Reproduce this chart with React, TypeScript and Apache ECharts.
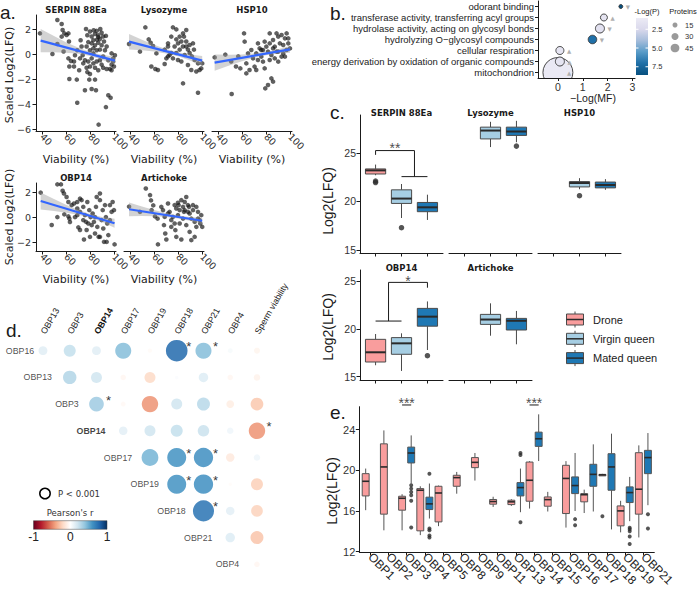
import React, { useEffect, useRef } from "react";
import * as echarts from "echarts";

const SANS = "'Liberation Sans', Arial, Helvetica, sans-serif";
const VERD = "'DejaVu Sans', Verdana, sans-serif";
const INK = "#1a1a1a";

// ================= Panel a: scatter + linear fit =================
const viabilityTicks = [40, 60, 80, 100];
const topYTicks = [-6, -4, -2, 0, 2];
const bottomYTicks = [-2, 0, 2];

const serpinPts = [
  [38.3,1.65],[52.8,2.72],[56.4,2.4],[57.2,1.92],[58.6,1.65],[56.4,1.39],[60.5,1.52],[62,1.65],[48.7,0],[52.8,0.8],[58,0.2],[62.5,1.0],[62,-0.35],[64.2,-0.56],[62.8,-1.0],[66.7,-1.0],[62.8,-2],[69,-2.05],[69.4,-3.9],[71,-1.3],[71.7,-0.35],[69.4,0.3],[73,0.6],[72.2,1.1],[76.7,2.0],[75.8,-2.9],[79.4,-2.05],[81.4,-2.8],[84.2,-2.05],[85,-2.9],[87.2,-5.65],[93.3,-4.25],[95.3,-3.3],[97.2,-3.5],
  [77.8,1.5],[80,1.8],[81.4,1.4],[82.8,1.1],[84.2,1.6],[85.6,1.85],[86.9,1.5],[88.3,1.2],[89.7,1.7],[91,1.4],[81.4,0.85],[84.2,0.7],[86.9,0.9],[89.7,0.7],[91.7,1.0],[78.6,0.95],[77.2,0.6],[80,0.3],[82.8,0.45],[85.6,0.3],[88.3,0.35],[92.5,0.3],[93.9,0.6],[93.3,1.45],[88.6,2.0],[83.1,1.9],[85.8,1.15],[86.9,1.35],
  [75.8,-0.5],[78.6,-0.6],[81.4,-0.35],[82.8,-0.75],[85.6,-0.6],[88.3,-0.5],[89.7,-0.85],[91,-1.1],[93.9,-1.2],[96.7,-1.2],[98,-0.85],[99.4,-0.6],[100,-1.0],[99.4,-0.35],[100.8,-0.1],[98,0.05],[95.3,-0.5],[91,-0.2],[84.2,-1.1],[86.9,-1.3],[80,-1.0],[77.2,-1.1],[74.4,-0.75],[73.9,-0.1],[67.5,-0.1],[66.7,-0.6],[98,-1.3],[80,-1.6],[77.8,-1.45],[82.8,0.05]
];
const serpinFit = [[38.9, 1.07], [100.8, -0.53]];
const serpinBand = [[38.9,0.14,2.0],[50,0.133,1.433],[60,0.105,0.945],[70,0.016,0.516],[80,-0.152,0.168],[90,-0.451,-0.051],[100.8,-0.85,-0.21]];

const lysozymePts = [
  [39.2,0.8],[48.3,0.19],[52.8,2.13],[55.6,1.17],[57.2,0.9],[59.2,0.64],[62,0.05],[57.8,-1.0],[61.1,-1.2],[63.3,-1.28],[68.9,-0.8],[70.3,-0.35],[71.7,0.85],[71.7,0.6],[73,-0.08],[75.8,2.13],[78.6,1.97],[74.4,1.39],[78.6,1.17],[80,0.85],[82.8,1.0],[85,1.39],[86.9,1.0],[84.2,0.6],[81.4,0.35],[78.6,0.08],[75.8,-0.35],[80,-0.48],[82.8,-0.6],[85.6,-0.08],[88.3,0.35],[84.2,1.65],[86.9,1.92],[89.7,0.08],[91.6,-0.19],[93.3,0.35],[93.9,-0.48],[96.7,-0.75],[98,-1.28],[99.4,-1.15],[95.3,-1.4],[91.1,-1.28],[96.7,-3.1],[84.2,-2.35],[88.3,-0.88],[77.2,0.6],[74.4,0.08],[71.7,-0.19],[81.4,1.39],[86.9,0.6],[89.7,0.72],[92.5,0.85],[100.2,-0.75],[68.9,0.35]
];
const lysozymeFit = [[39.2, 0.99], [100.2, -0.53]];
const lysozymeBand = [[39.2,0.37,1.61],[50,0.30,1.14],[60,0.20,0.74],[70,0.043,0.403],[80,-0.186,0.134],[90,-0.515,-0.035],[100.2,-0.91,-0.15]];

const hsp10Pts = [
  [37.2,-0.27],[46.1,-0.05],[51,-0.6],[51.4,-3.2],[55,-1.0],[56.9,-0.19],[58.6,-1.15],[61.7,1.65],[62.2,0.99],[63.6,-0.75],[63.6,-1.55],[67.8,0.32],[69.2,-0.35],[70.5,-1.01],[71.9,0.05],[73.3,0.85],[74.7,0.45],[76.1,-0.21],[77.5,-0.61],[78.9,-1.15],[80.3,0.59],[81.7,0.19],[83.1,1.65],[83.1,0.85],[84.5,-0.08],[85.9,1.12],[87.3,0.59],[88.8,0.19],[90.2,1.39],[91.6,0.85],[93,1.52],[94.4,0.72],[95.8,1.25],[97.2,1.65],[98.6,0.85],[100,0.45],[87.3,-0.35],[90.2,-0.61],[93,-0.21],[84.5,-1.95],[85.9,-2.21],[81.7,-2.48],[79.4,-2.75],[76.1,0.32],[71.9,-1.28],[66.3,-1.28],[78.9,0.99],[90.2,0.19],[94.4,0.05],[97.2,0.32],[98.6,1.25],[88.8,1.65],[85.9,0.45],[77.5,0.32],[73.3,-0.48],[83.1,-0.48],[95.8,-0.21],[65,0.05]
];
const hsp10Fit = [[37.2, -0.69], [100, 0.37]];
const hsp10Band = [[37.2,-1.34,-0.04],[50,-0.894,-0.054],[60,-0.575,-0.035],[70,-0.306,0.034],[80,-0.097,0.163],[90,0.032,0.372],[100,0.10,0.64]];

const obp14Pts = [
  [38.9,1.95],[48.1,-0.64],[52.8,2.61],[55.8,2.61],[57.2,2.1],[58.3,1.88],[60.5,1.6],[62,1.2],[58.6,0.21],[62,0.05],[63.3,-0.4],[62.8,-0.13],[52.8,-0.01],[66.7,1.08],[69.4,1.2],[71.7,1.47],[69.4,0.68],[71.7,0.41],[70.3,-0.83],[71.7,-1.04],[74.4,0.81],[75.8,0.15],[76.7,-0.39],[75,-1.8],[77.8,1.2],[79.4,0.55],[80.5,-0.01],[82.2,0.28],[83.3,-0.39],[85,0.81],[86.1,-0.79],[87.2,-1.59],[88.3,1.35],[88.3,1.88],[89.7,-0.25],[91.1,-0.92],[91.7,-1.99],[93.9,-1.99],[95.3,-1.45],[93.3,-0.01],[96.6,-0.25],[98,0.41],[98.9,1.2],[100,0.55],[100.5,-2.19],[96.6,0.95],[92.5,0.95],[84.2,-0.01],[81.4,-0.65],[78.6,-0.52],[77.2,-1.04],[74.4,-0.25],[73,1.35],[67.5,-0.01],[64.7,0.95],[85.6,1.6],[90.6,0.55],[94.4,-0.52],[88.3,-1.59],[84.2,-1.32],[80,-1.59],[69.4,0.15]
];
const obp14Fit = [[38.9, 1.28], [100.5, -0.5]];
const obp14Band = [[38.9,0.60,1.96],[50,0.479,1.439],[60,0.35,0.99],[70,0.181,0.581],[80,-0.058,0.242],[90,-0.397,0.003],[100.5,-0.86,-0.14]];

const artichokePts = [
  [39.2,0.83],[48.3,0.41],[53.2,2.28],[56.7,1.75],[57.5,1.33],[59.4,0.93],[58,0.55],[60.8,0.05],[63,-0.13],[63.3,-2.19],[66.1,0.81],[68.3,-0.65],[69.4,-1.32],[70.3,-1.8],[71.7,1.08],[73,0.41],[74.4,-0.25],[75.8,0.01],[77.2,0.95],[77.8,-1.05],[78.6,-1.59],[80,1.14],[81.4,0.55],[82.8,1.35],[84.2,0.81],[85.6,0.55],[86.9,1.6],[88.3,0.95],[89.7,0.28],[91.1,-0.13],[92.5,0.55],[93.9,-0.39],[95.3,-0.79],[96.7,0.41],[98,-0.25],[99.4,0.15],[100.2,-0.79],[84.2,-0.13],[86.9,-0.65],[89.7,-1.19],[91.1,-1.85],[93.9,-1.59],[82.8,-1.8],[81.4,-0.52],[77.2,-0.52],[74.4,-0.79],[78.6,0.68],[85.6,1.2],[88.3,0.41],[95.3,0.81],[96.7,-0.13],[98.6,-0.52],[92.5,0.95],[71.7,0.28],[68.9,0.01],[67.5,0.55],[80,0.15],[85,0.41],[80.5,0.95],[89.2,0.81]
];
const artichokeFit = [[39.2, 0.62], [100.2, -0.3]];
const artichokeBand = [[39.2,0.07,1.17],[50,0.077,0.837],[60,0.056,0.556],[70,-0.005,0.315],[80,-0.115,0.125],[90,-0.296,0.004],[100.2,-0.55,-0.05]];

// ================= Panel b: GO enrichment =================
const bTerms = [
  "mitochondrion",
  "energy derivation by oxidation of organic compounds",
  "cellular respiration",
  "hydrolyzing O\u2212glycosyl compounds",
  "hydrolase activity, acting on glycosyl bonds",
  "transferase activity, transferring acyl groups",
  "odorant binding",
];
const bLogMF = [0.0, 0.08, 0.08, 1.39, 1.69, 1.85, 2.53];
const bLogP = [1.2, 1.5, 1.5, 7.0, 1.8, 1.6, 8.6];
const bProteins = [530, 48, 38, 43, 48, 29, 9];
const bDirection = ["\u25B2", "\u25B2", "\u25B2", "\u25BC", "\u25BC", "\u25B2", "\u25BC"];
const bPTicks = [2.5, 5.0, 7.5];
const bProteinTicks = [15, 30, 45];

// ================= Panel c: boxplots by caste =================
const cGroups = ["Drone", "Virgin queen", "Mated queen"];
// [group, min, q1, median, q3, max]
const cSerpinBoxes = [[0,22.7,22.83,23.2,23.35,23.8],[1,18.3,19.8,20.3,21.2,21.8],[2,18.1,18.95,19.4,19.9,20.7]];
const cSerpinOut = [[0,22.1],[0,21.95],[1,17.3]];
const cLysozymeBoxes = [[1,25.6,26.44,27.3,27.65,28.2],[2,26.1,26.8,27.2,27.65,28.3]];
const cLysozymeOut = [[2,25.7]];
const cHsp10Boxes = [[1,21.26,21.5,21.9,22.05,22.4],[2,21.2,21.4,21.7,22.0,22.3]];
const cHsp10Out = [[1,20.6]];
const cObp14Boxes = [[0,16.2,16.54,17.56,18.92,19.48],[1,15.6,17.35,18.5,19.1,19.55],[2,17.8,20.3,21.3,22.17,22.9]];
const cObp14Out = [[2,17.2]];
const cArtichokeBoxes = [[1,19.3,20.49,21.0,21.54,22.7],[2,18.4,19.9,20.87,21.12,21.9]];
const cArtichokeOut: number[][] = [];
const cTicks = [15, 20, 25];

// ================= Panel d: correlation matrix =================
const dCols = ["OBP13","OBP3","OBP14","OBP17","OBP19","OBP18","OBP21","OBP4","Sperm viability"];
const dRows = ["OBP16","OBP13","OBP3","OBP14","OBP17","OBP19","OBP18","OBP21","OBP4"];
// row i holds values for columns i..8
const dCorr = [
  [0.13, 0.24, 0.13, 0.43, -0.03, 0.78, 0.43, 0.04, -0.06],
  [0.3, 0.2, -0.05, -0.2, 0.02, 0.15, -0.05, -0.07],
  [0.36, -0.04, -0.45, 0.2, 0.28, -0.1, -0.27],
  [0.12, 0.2, 0.24, 0.22, 0.07, -0.45],
  [0.47, 0.6, 0.62, -0.12, 0.07],
  [0.6, 0.62, -0.02, -0.24],
  [0.74, 0.12, -0.23],
  [0.15, -0.28],
  [-0.05],
];
const dSignificant = [
  ["OBP16","OBP18"],["OBP16","OBP21"],["OBP3","OBP14"],["OBP14","Sperm viability"],
  ["OBP17","OBP18"],["OBP17","OBP21"],["OBP19","OBP18"],["OBP19","OBP21"],["OBP18","OBP21"],
];

// ================= Panel e: OBP boxplots =================
const eCats = ["OBP1","OBP2","OBP3","OBP4","OBP5","OBP8","OBP9","OBP11","OBP13","OBP14","OBP15","OBP16","OBP17","OBP18","OBP19","OBP21"];
// [min, q1, median, q3, max] or null
const eDrone = [
  [16.08,17.48,18.92,19.67,20.17],
  [14.1,15.69,20.33,22.6,23.92],
  [14.1,16.08,17.25,17.45,17.65],
  [13.63,14.05,18.04,18.2,18.43],
  [14.51,14.93,17.77,18.43,18.5],
  [17.7,18.43,19.28,19.51,19.84],
  [18.99,20.26,20.78,21.25,21.7],
  [16.4,16.67,16.93,17.13,17.4],
  [16.5,16.63,16.9,17.06,17.16],
  [16.24,16.96,19.02,20.81,20.9],
  [15.95,16.47,17.12,17.38,17.88],
  [14.37,15.75,19.2,20.49,20.9],
  [15.8,16.9,17.6,17.71,18.1],
  [19.45,19.5,19.55,19.6,19.65],
  [13.9,14.54,16.01,16.5,17.0],
  [13.4,15.69,18.14,21.73,22.45],
];
const eMated = [
  null, null,
  [18.7,20.72,21.7,22.28,23.43],
  [15.26,16.14,16.7,17.36,18.7],
  null, null, null, null,
  [15.88,17.48,18.3,18.79,20.17],
  [20.91,22.35,23.1,23.75,25.5],
  null,
  [16.0,17.71,18.5,19.35,21.7],
  [15.95,18.43,19.6,20.59,22.55],
  [14.19,18.04,20.33,21.63,23.6],
  [15.0,16.83,17.81,18.37,19.35],
  [16.57,19.67,21.25,21.96,23.66],
];
// [category index, value]
const eDroneOut = [[13,15.49]];
const eMatedOut = [[2,18.53],[2,18.2],[2,17.87],[2,17.55],[2,17.0],[2,14.37],[3,19.67],[3,14.28],[3,14.1],[3,13.6],[3,13.4],[8,21.7],[8,21.5],[8,14.9],[11,15.2],[11,14.6],[14,14.35],[14,14.2],[14,14.0],[14,13.5],[14,12.75],[15,15.69],[15,14.28]];
const eSignificant = [[2, "***"], [9, "***"]];
const eYTicks = [12, 16, 20, 24];

// ================= helpers =================
const FILL = ["#F99D9D", "#A6CEE3", "#1F78B4"];

function hexToRgb(h: string) {
  const n = parseInt(h.slice(1), 16);
  return [(n >> 16) & 255, (n >> 8) & 255, n & 255];
}
function ramp(stops: [number, string][], v: number) {
  if (v <= stops[0][0]) return stops[0][1];
  for (let i = 1; i < stops.length; i++) {
    if (v <= stops[i][0]) {
      const t = (v - stops[i - 1][0]) / (stops[i][0] - stops[i - 1][0]);
      const a = hexToRgb(stops[i - 1][1]);
      const b = hexToRgb(stops[i][1]);
      return `rgb(${Math.round(a[0] + (b[0] - a[0]) * t)},${Math.round(a[1] + (b[1] - a[1]) * t)},${Math.round(a[2] + (b[2] - a[2]) * t)})`;
    }
  }
  return stops[stops.length - 1][1];
}
const RDBU: [number, string][] = [
  [-1, "#67001F"], [-0.8, "#B2182B"], [-0.6, "#D6604D"], [-0.4, "#F4A582"], [-0.2, "#FDDBC7"],
  [0, "#FFFFFF"], [0.2, "#D1E5F0"], [0.4, "#92C5DE"], [0.6, "#4393C3"], [0.8, "#2166AC"], [1, "#053061"],
];
const PUBU: [number, string][] = [
  [1.0, "#ECEBF5"], [2.5, "#DAD9EC"], [4.0, "#A6BDDB"], [5.5, "#5A9CC8"], [7.0, "#2070A8"], [8.6, "#08507F"],
];
const minus = (v: number) => (v < 0 ? "\u2212" + Math.abs(v) : String(v));

const T = (x: number, y: number, text: string, o: any = {}) => ({
  type: "text",
  x,
  y,
  rotation: o.rot || 0,
  silent: true,
  z: 50,
  style: {
    text,
    fill: o.color || INK,
    fontSize: o.size || 10,
    fontFamily: o.family || SANS,
    fontWeight: o.weight || "normal",
    align: o.align || "center",
    verticalAlign: o.valign || "middle",
    textAlign: o.align || "center",
    textVerticalAlign: o.valign || "middle",
  },
});

const bandRenderer = (band: number[][]) => (params: any, api: any) => {
  const upper = band.map((b) => api.coord([b[0], b[2]]));
  const lower = band.slice().reverse().map((b) => api.coord([b[0], b[1]]));
  return { type: "polygon", shape: { points: upper.concat(lower) }, style: { fill: "rgba(150,150,150,0.42)" } };
};

const boxRenderer = (boxW: number, edge: string, medW: number) => (params: any, api: any) => {
  const x = api.value(0);
  const g = api.value(6);
  const pMin = api.coord([x, api.value(1)]);
  const pQ1 = api.coord([x, api.value(2)]);
  const pMed = api.coord([x, api.value(3)]);
  const pQ3 = api.coord([x, api.value(4)]);
  const pMax = api.coord([x, api.value(5)]);
  const w = api.size([boxW, 0])[0];
  const cx = pMin[0];
  const ls = { stroke: edge, lineWidth: 1 };
  return {
    type: "group",
    children: [
      { type: "line", shape: { x1: cx, y1: pMax[1], x2: cx, y2: pQ3[1] }, style: ls },
      { type: "line", shape: { x1: cx, y1: pQ1[1], x2: cx, y2: pMin[1] }, style: ls },
      { type: "rect", shape: { x: cx - w / 2, y: pQ3[1], width: w, height: Math.max(pQ1[1] - pQ3[1], 1.5) }, style: { fill: FILL[g], stroke: edge, lineWidth: 1 } },
      { type: "line", shape: { x1: cx - w / 2, y1: pMed[1], x2: cx + w / 2, y2: pMed[1] }, style: { stroke: "#2a2a2a", lineWidth: medW } },
    ],
  };
};

function buildOption() {
  const grids: any[] = [];
  const xAxes: any[] = [];
  const yAxes: any[] = [];
  const series: any[] = [];
  const gfx: any[] = [];
  const axisLine = (show: boolean) => ({ show, onZero: false, lineStyle: { color: INK, width: 1 } });

  // ---------- a ----------
  const aPanels = [
    { title: "SERPIN 88Ea", pts: serpinPts, fit: serpinFit, band: serpinBand, left: 36, top: 15, h: 116, yMin: -6.16, yMax: 3.12, ticks: topYTicks, showY: true },
    { title: "Lysozyme", pts: lysozymePts, fit: lysozymeFit, band: lysozymeBand, left: 124, top: 15, h: 116, yMin: -6.16, yMax: 3.12, ticks: topYTicks, showY: false },
    { title: "HSP10", pts: hsp10Pts, fit: hsp10Fit, band: hsp10Band, left: 212, top: 15, h: 116, yMin: -6.16, yMax: 3.12, ticks: topYTicks, showY: false },
    { title: "OBP14", pts: obp14Pts, fit: obp14Fit, band: obp14Band, left: 36, top: 183, h: 68, yMin: -2.72, yMax: 2.72, ticks: bottomYTicks, showY: true },
    { title: "Artichoke", pts: artichokePts, fit: artichokeFit, band: artichokeBand, left: 124, top: 183, h: 68, yMin: -2.72, yMax: 2.72, ticks: bottomYTicks, showY: false },
  ];
  aPanels.forEach((p) => {
    const gi = grids.length;
    grids.push({ left: p.left, top: p.top, width: 80, height: p.h, outerBoundsMode: "none", containLabel: false });
    xAxes.push({
      gridIndex: gi, type: "value", min: 35, max: 101.7, splitLine: { show: false },
      axisLine: axisLine(true),
      axisTick: { show: true, length: 3.5, customValues: viabilityTicks, lineStyle: { color: INK } },
      axisLabel: { customValues: viabilityTicks, rotate: -45, margin: 4, fontSize: 9.5, fontFamily: VERD, color: "#333" },
    });
    yAxes.push({
      gridIndex: gi, type: "value", min: p.yMin, max: p.yMax, splitLine: { show: false },
      axisLine: axisLine(p.showY),
      axisTick: { show: p.showY, length: 3.5, customValues: p.ticks, lineStyle: { color: INK } },
      axisLabel: { show: p.showY, customValues: p.ticks, margin: 5, fontSize: 9.5, fontFamily: VERD, color: "#333", formatter: (v: number) => minus(v) },
    });
    series.push({ type: "scatter", xAxisIndex: gi, yAxisIndex: gi, data: p.pts, symbolSize: 4.6, itemStyle: { color: "rgba(20,20,20,0.85)" }, silent: true, z: 2 });
    series.push({ type: "custom", xAxisIndex: gi, yAxisIndex: gi, data: [[p.band[0][0], p.band[0][1]]], renderItem: bandRenderer(p.band), silent: true, z: 3 });
    series.push({ type: "line", xAxisIndex: gi, yAxisIndex: gi, data: p.fit, symbol: "none", lineStyle: { color: "#3366FF", width: 2.2 }, silent: true, z: 4 });
    gfx.push(T(p.left + 40, p.top - 5, p.title, { family: VERD, weight: "bold", size: 8.5 }));
    gfx.push(T(p.left + 40, p.top + p.h + 28, "Viability (%)", { family: VERD, size: 11 }));
  });
  gfx.push(T(9, 75, "Scaled Log2(LFQ)", { family: VERD, size: 11, rot: Math.PI / 2 }));
  gfx.push(T(9, 217, "Scaled Log2(LFQ)", { family: VERD, size: 11, rot: Math.PI / 2 }));
  gfx.push(T(0, 12, "a.", { size: 19, align: "left" }));

  // ---------- b ----------
  {
    const gi = grids.length;
    grids.push({ left: 538, top: 1, width: 97, height: 77, outerBoundsMode: "none", containLabel: false });
    xAxes.push({
      gridIndex: gi, type: "value", min: -0.8, max: 3.1, splitLine: { show: false },
      axisLine: axisLine(true),
      axisTick: { show: true, length: 3, customValues: [0, 1, 2, 3], lineStyle: { color: INK } },
      axisLabel: { customValues: [0, 1, 2, 3], margin: 3, fontSize: 10.5, color: "#333" },
    });
    yAxes.push({
      gridIndex: gi, type: "category", data: bTerms, splitLine: { show: false },
      axisLine: axisLine(true),
      axisTick: { show: true, length: 3, alignWithLabel: true, lineStyle: { color: INK } },
      axisLabel: { interval: 0, margin: 4, fontSize: 9.5, color: "#222" },
    });
    series.push({
      type: "custom", xAxisIndex: gi, yAxisIndex: gi, clip: true, silent: true,
      data: bTerms.map((t, i) => [bLogMF[i], i, bProteins[i], bLogP[i]]),
      renderItem: (params: any, api: any) => {
        const i = params.dataIndex;
        const c = api.coord([api.value(0), api.value(1)]);
        const r = 0.65 * Math.sqrt(api.value(2));
        return {
          type: "group",
          children: [
            { type: "circle", shape: { cx: c[0], cy: c[1], r }, style: { fill: ramp(PUBU, api.value(3)), stroke: "#333", lineWidth: 0.9 } },
            { type: "text", x: c[0] + Math.min(r, 6) + 3, y: c[1], style: { text: bDirection[i], fill: "#b0b0b0", fontSize: 5.5, fontFamily: VERD, align: "left", verticalAlign: "middle", textAlign: "left", textVerticalAlign: "middle" } },
          ],
        };
      },
    });
    gfx.push(T(330, 13, "b.", { size: 19, align: "left" }));
    gfx.push(T(593, 98, "\u2212Log(MF)", { size: 10.5 }));
    // -Log(P) colour bar
    gfx.push(T(647, 11, "-Log(P)", { size: 7.5 }));
    const cbTop = 18, cbH = 57, vMin = 1.0, vMax = 8.6;
    const stops = PUBU.map((s) => ({ offset: (s[0] - vMin) / (vMax - vMin), color: s[1] }));
    gfx.push({ type: "rect", shape: { x: 636, y: cbTop, width: 12, height: cbH }, style: { fill: new echarts.graphic.LinearGradient(0, 0, 0, 1, stops) }, silent: true });
    bPTicks.forEach((v) => {
      const y = cbTop + ((v - vMin) / (vMax - vMin)) * cbH;
      gfx.push({ type: "line", shape: { x1: 636, y1: y, x2: 638.5, y2: y }, style: { stroke: "#fff", lineWidth: 1 }, silent: true });
      gfx.push({ type: "line", shape: { x1: 645.5, y1: y, x2: 648, y2: y }, style: { stroke: "#fff", lineWidth: 1 }, silent: true });
      gfx.push(T(652, y, v.toFixed(1), { size: 7.5, align: "left", color: "#333" }));
    });
    // Proteins size legend
    gfx.push(T(683, 11, "Proteins", { size: 7.5 }));
    bProteinTicks.forEach((n, k) => {
      const y = 25 + k * 11.5;
      gfx.push({ type: "circle", shape: { cx: 675, cy: y, r: 0.65 * Math.sqrt(n) }, style: { fill: "#9a9a9a" }, silent: true });
      gfx.push(T(685, y, String(n), { size: 7.5, align: "left", color: "#333" }));
    });
  }

  // ---------- c ----------
  const cPanels = [
    { title: "SERPIN 88Ea", boxes: cSerpinBoxes, out: cSerpinOut, left: 360, top: 115, h: 138, yMin: 14.7, yMax: 28.9, showY: true },
    { title: "Lysozyme", boxes: cLysozymeBoxes, out: cLysozymeOut, left: 449, top: 115, h: 138, yMin: 14.7, yMax: 28.9, showY: false },
    { title: "HSP10", boxes: cHsp10Boxes, out: cHsp10Out, left: 538, top: 115, h: 138, yMin: 14.7, yMax: 28.9, showY: false },
    { title: "OBP14", boxes: cObp14Boxes, out: cObp14Out, left: 360, top: 270, h: 110, yMin: 14.65, yMax: 26.2, showY: true },
    { title: "Artichoke", boxes: cArtichokeBoxes, out: cArtichokeOut, left: 449, top: 270, h: 110, yMin: 14.65, yMax: 26.2, showY: false },
  ];
  const cIdx: number[] = [];
  cPanels.forEach((p) => {
    const gi = grids.length;
    cIdx.push(gi);
    grids.push({ left: p.left, top: p.top, width: 83, height: p.h, outerBoundsMode: "none", containLabel: false });
    xAxes.push({
      gridIndex: gi, type: "value", min: 0.4, max: 3.6, splitLine: { show: false },
      axisLine: axisLine(true),
      axisTick: { show: true, length: 3.5, customValues: [1, 2, 3], lineStyle: { color: INK } },
      axisLabel: { show: false },
    });
    yAxes.push({
      gridIndex: gi, type: "value", min: p.yMin, max: p.yMax, splitLine: { show: false },
      axisLine: axisLine(p.showY),
      axisTick: { show: p.showY, length: 3.5, customValues: cTicks, lineStyle: { color: INK } },
      axisLabel: { show: p.showY, customValues: cTicks, margin: 4, fontSize: 10.5, color: "#333" },
    });
    series.push({
      type: "custom", xAxisIndex: gi, yAxisIndex: gi, silent: true,
      data: p.boxes.map((b) => [b[0] + 1, b[1], b[2], b[3], b[4], b[5], b[0]]),
      renderItem: boxRenderer(0.78, "#4a4a4a", 2),
    });
    series.push({
      type: "scatter", xAxisIndex: gi, yAxisIndex: gi, silent: true, symbolSize: 5.5,
      itemStyle: { color: "#2a2a2a" }, data: p.out.map((o) => [o[0] + 1, o[1]]),
    });
    gfx.push(T(p.left + 41.5, p.top - 2, p.title, { family: VERD, weight: "bold", size: 8.5 }));
  });
  // significance brackets (c)
  const bracket = (gi: number, pts: number[][]) => series.push({ type: "line", xAxisIndex: gi, yAxisIndex: gi, data: pts, symbol: "none", silent: true, clip: false, lineStyle: { color: INK, width: 1 } });
  bracket(cIdx[0], [[1, 24.8], [1, 25.24], [2.5, 25.24], [2.5, 22.56]]);
  bracket(cIdx[0], [[2, 22.56], [3, 22.56]]);
  bracket(cIdx[3], [[1.5, 20.84], [1.5, 24.9], [3, 24.9], [3, 24.34]]);
  bracket(cIdx[3], [[1, 20.84], [2, 20.84]]);
  const star = (gi: number, x: number, y: number, s: string, size: number) => series.push({
    type: "scatter", xAxisIndex: gi, yAxisIndex: gi, silent: true, clip: false, symbolSize: 0, data: [[x, y]],
    label: { show: true, position: "inside", formatter: s, fontSize: size, lineHeight: size, color: INK, fontFamily: SANS },
  });
  star(cIdx[0], 1.75, 25.5, "**", 14);
  star(cIdx[3], 2.25, 25.05, "*", 14);
  gfx.push(T(330, 112, "c.", { size: 19, align: "left" }));
  gfx.push(T(328, 201, "Log2(LFQ)", { size: 14, rot: Math.PI / 2 }));
  gfx.push(T(328, 327, "Log2(LFQ)", { size: 14, rot: Math.PI / 2 }));
  // legend c
  cGroups.forEach((g, k) => {
    const y = 319.5 + k * 19.3;
    gfx.push({ type: "line", shape: { x1: 575, y1: y - 8, x2: 575, y2: y + 8 }, style: { stroke: "#4a4a4a", lineWidth: 1 }, silent: true });
    gfx.push({ type: "rect", shape: { x: 566.5, y: y - 5.5, width: 17, height: 11 }, style: { fill: FILL[k], stroke: "#4a4a4a", lineWidth: 1 }, silent: true });
    gfx.push({ type: "line", shape: { x1: 566.5, y1: y, x2: 583.5, y2: y }, style: { stroke: "#2a2a2a", lineWidth: 1.5 }, silent: true });
    gfx.push(T(593, y, g, { size: 11, align: "left" }));
  });

  // ---------- d ----------
  {
    const gi = grids.length;
    grids.push({ left: 29.6, top: 337.35, width: 240.75, height: 240.3, outerBoundsMode: "none", containLabel: false });
    const colIdx = dCols.map((c, i) => i);
    xAxes.push({
      gridIndex: gi, type: "value", position: "top", min: -0.5, max: 8.5, splitLine: { show: false },
      axisLine: { show: false }, axisTick: { show: false },
      axisLabel: {
        customValues: colIdx, rotate: 60, margin: 4, fontSize: 8.8, color: "#222",
        formatter: (v: number) => { const n = dCols[Math.round(v)]; return n === "OBP14" ? "{b|OBP14}" : n; },
        rich: { b: { fontWeight: "bold", fontSize: 8.8, color: "#111", fontFamily: SANS } },
      },
    });
    yAxes.push({ gridIndex: gi, type: "value", inverse: true, min: -0.5, max: 8.5, show: false, splitLine: { show: false } });
    const pts: any[] = [];
    dCorr.forEach((row, i) => row.forEach((r, k) => pts.push([i + k, i, r])));
    series.push({
      type: "scatter", xAxisIndex: gi, yAxisIndex: gi, silent: true, data: pts,
      symbolSize: (v: number[]) => 24.5 * Math.sqrt(Math.abs(v[2])),
      itemStyle: { color: (p: any) => ramp(RDBU, p.value[2]), opacity: 0.86 },
    });
    series.push({
      type: "scatter", xAxisIndex: gi, yAxisIndex: gi, silent: true, clip: false, symbolSize: 0,
      data: dRows.map((name, i) => ({ value: [i - 1, i], label: { offset: [i === 0 ? 18 : 9, 0] } })),
      label: {
        show: true, position: "inside", align: "right", verticalAlign: "middle", fontSize: 8.8, color: "#222", fontFamily: SANS,
        formatter: (p: any) => (dRows[p.dataIndex] === "OBP14" ? "{b|OBP14}" : dRows[p.dataIndex]),
        rich: { b: { fontWeight: "bold", fontSize: 8.8, color: "#111", fontFamily: SANS } },
      },
    });
    series.push({
      type: "scatter", xAxisIndex: gi, yAxisIndex: gi, silent: true, clip: false, symbolSize: 0,
      data: dSignificant.map((s) => [dCols.indexOf(s[1]), dRows.indexOf(s[0])]),
      label: { show: true, position: "inside", offset: [12, -4], formatter: "*", fontSize: 13, color: "#000", fontFamily: SANS },
    });
    gfx.push(T(6, 330, "d.", { size: 19, align: "left" }));
    gfx.push({ type: "circle", shape: { cx: 45, cy: 493.5, r: 5.2 }, style: { fill: "none", stroke: "#000", lineWidth: 1.5 }, silent: true });
    gfx.push(T(58, 493.5, "P < 0.001", { family: VERD, size: 8.5, align: "left", color: "#333" }));
    gfx.push(T(70, 513, "Pearson's r", { family: VERD, size: 8.5, color: "#333" }));
    const rStops = RDBU.map((s) => ({ offset: (s[0] + 1) / 2, color: s[1] }));
    gfx.push({ type: "rect", shape: { x: 33.5, y: 520.7, width: 73.5, height: 8.6 }, style: { fill: new echarts.graphic.LinearGradient(0, 0, 1, 0, rStops), stroke: "#444", lineWidth: 0.5 }, silent: true });
    [-1, 0, 1].forEach((v) => gfx.push(T(33.5 + ((v + 1) / 2) * 73.5, 537, v === -1 ? "-1" : String(v), { size: 12, color: "#222" })));
  }

  // ---------- e ----------
  {
    const gi = grids.length;
    grids.push({ left: 359.3, top: 406.7, width: 295, height: 145.3, outerBoundsMode: "none", containLabel: false });
    const catTicks = eCats.map((c, i) => i + 1);
    xAxes.push({
      gridIndex: gi, type: "value", min: 0.4, max: 16.6, splitLine: { show: false },
      axisLine: axisLine(true),
      axisTick: { show: true, length: 3.5, customValues: catTicks, lineStyle: { color: INK } },
      axisLabel: { customValues: catTicks, rotate: -45, margin: 3, fontSize: 12, color: "#222", formatter: (v: number) => eCats[Math.round(v) - 1] },
    });
    yAxes.push({
      gridIndex: gi, type: "value", min: 11.97, max: 26.25, splitLine: { show: false },
      axisLine: axisLine(true),
      axisTick: { show: true, length: 3.5, customValues: eYTicks, lineStyle: { color: INK } },
      axisLabel: { customValues: eYTicks, margin: 4, fontSize: 11, color: "#333" },
    });
    const rows: number[][] = [];
    eDrone.forEach((s, i) => { if (s) rows.push([i + 1 - 0.25, ...s, 0]); });
    eMated.forEach((s, i) => { if (s) rows.push([i + 1 + 0.25, ...s, 2]); });
    series.push({ type: "custom", xAxisIndex: gi, yAxisIndex: gi, silent: true, data: rows, renderItem: boxRenderer(0.38, "#555", 1.6) });
    series.push({
      type: "scatter", xAxisIndex: gi, yAxisIndex: gi, silent: true, symbolSize: 4, itemStyle: { color: "#2a2a2a" },
      data: eDroneOut.map((o) => [o[0] + 1 - 0.25, o[1]]).concat(eMatedOut.map((o) => [o[0] + 1 + 0.25, o[1]])),
    });
    eSignificant.forEach((s: any) => {
      const x = s[0] + 1;
      series.push({ type: "line", xAxisIndex: gi, yAxisIndex: gi, data: [[x - 0.25, 26.42], [x + 0.25, 26.42]], symbol: "none", silent: true, clip: false, lineStyle: { color: INK, width: 1 } });
      star(gi, x, 26.62, s[1], 14);
    });
    gfx.push(T(330, 412, "e.", { size: 19, align: "left" }));
    gfx.push(T(332, 491, "Log2(LFQ)", { size: 14, rot: Math.PI / 2 }));
  }

  return {
    animation: false,
    backgroundColor: "#ffffff",
    textStyle: { fontFamily: SANS },
    grid: grids,
    xAxis: xAxes,
    yAxis: yAxes,
    series,
    graphic: { elements: gfx },
  };
}

export default function App() {
  const ref = useRef<HTMLDivElement>(null);
  useEffect(() => {
    const chart = echarts.init(ref.current as HTMLDivElement, null, { renderer: "svg" });
    chart.setOption(buildOption() as any);
    return () => chart.dispose();
  }, []);
  return <div ref={ref} style={{ position: "absolute", left: 0, top: 0, width: 699, height: 591, background: "#fff" }} />;
}
